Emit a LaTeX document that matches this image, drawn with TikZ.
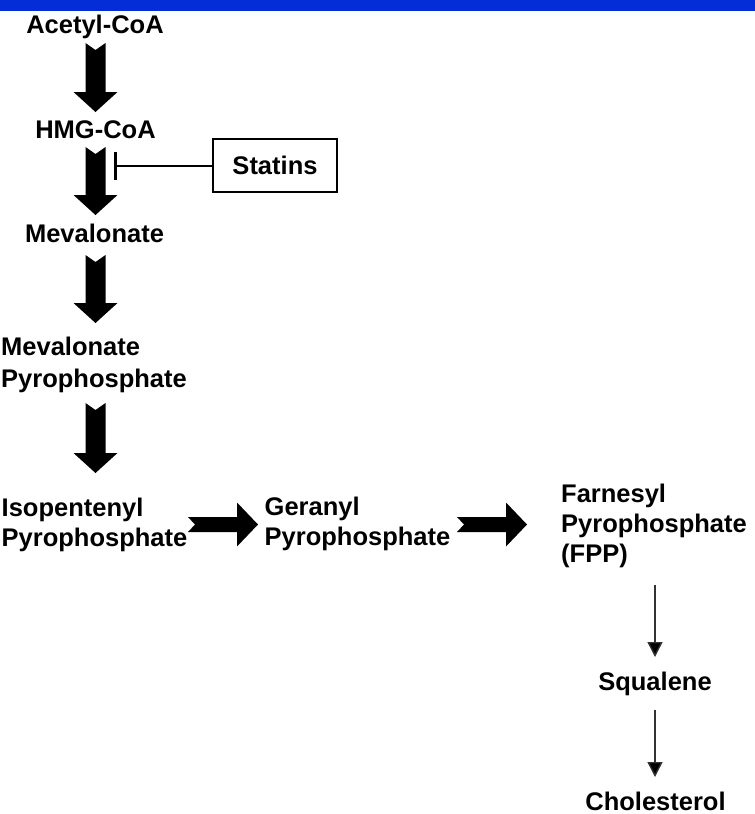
\documentclass[tikz,border=0pt]{standalone}
\usepackage{fontspec}
\setmainfont{Liberation Sans}
\usetikzlibrary{arrows.meta,calc}
\definecolor{topblue}{RGB}{5,45,215}
\definecolor{thinline}{RGB}{50,50,50}
\tikzset{
  lbl/.style={inner sep=0pt, font=\fontsize{25.5}{30}\selectfont\bfseries},
  boxlbl/.style={lbl, draw, line width=1.6pt, minimum width=124pt, minimum height=53pt},
  fatarrow/.style={fill=black},
  thinarr/.style={draw=thinline, line width=1.4pt, -{Triangle[width=15pt,length=15pt,fill=black]}},
  inhibit/.style={draw=black, line width=2pt, -{Bar[width=28pt,line width=2.6pt]}}
}
\newcommand\vfat[2]{\fill[fatarrow] let \p1=(#1), \p2=(#2) in
  (\x1-10pt,\y1) -- (\x1,\y1-7pt) -- (\x1+10pt,\y1) -- (\x1+10pt,\y2+20pt) --
  (\x1+22pt,\y2+20pt) -- (\x1,\y2) -- (\x1-22pt,\y2+20pt) -- (\x1-10pt,\y2+20pt) -- cycle;}
\newcommand\hfat[2]{\fill[fatarrow] let \p1=(#1), \p2=(#2) in
  (\x1,\y1+7.5pt) -- (\x1+7pt,\y1) -- (\x1,\y1-7.5pt) -- (\x2-21pt,\y1-7.5pt) --
  (\x2-21pt,\y1-22pt) -- (\x2,\y1) -- (\x2-21pt,\y1+22pt) -- (\x2-21pt,\y1+7.5pt) -- cycle;}
\begin{document}
\begin{tikzpicture}[x=1pt,y=-1pt]
\useasboundingbox (0,0) rectangle (755,814);
\fill[topblue] (0,0) rectangle (755,11);

% labels
\node[lbl, anchor=base] (acetyl) at (95,33) {Acetyl-CoA};
\node[lbl, anchor=base] (hmg) at (95.5,138) {HMG-CoA};
\node[boxlbl] (statins) at (275,165.5) {Statins};
\node[lbl, anchor=base] (meval) at (94.5,242) {Mevalonate};
\node[lbl, anchor=base west] (mevpp) at (1,355)
  {\fontsize{25.5}{32}\selectfont\begin{tabular}[t]{@{}l@{}}Mevalonate\\Pyrophosphate\end{tabular}};
\node[lbl, anchor=base west] (ipp) at (1.5,516)
  {\begin{tabular}[t]{@{}l@{}}Isopentenyl\\Pyrophosphate\end{tabular}};
\node[lbl, anchor=base west] (gpp) at (264.5,515)
  {\begin{tabular}[t]{@{}l@{}}Geranyl\\Pyrophosphate\end{tabular}};
\node[lbl, anchor=base west] (fpp) at (561,502)
  {\begin{tabular}[t]{@{}l@{}}Farnesyl\\Pyrophosphate\\(FPP)\end{tabular}};
\node[lbl, anchor=base] (squalene) at (655,690) {Squalene};
\node[lbl, anchor=base] (chol) at (655.5,810) {Cholesterol};

% connector ends
\coordinate (v1s) at (95.5,43);  \coordinate (v1e) at (95.5,112);
\coordinate (v2s) at (95.5,147); \coordinate (v2e) at (95.5,215);
\coordinate (v3s) at (95.5,255); \coordinate (v3e) at (95.5,323);
\coordinate (v4s) at (95.5,403); \coordinate (v4e) at (95.5,473);
\coordinate (h1s) at (188,524.5); \coordinate (h1e) at (258,524.5);
\coordinate (h2s) at (457,524.5); \coordinate (h2e) at (527,524.5);
\coordinate (t1s) at (655,585); \coordinate (t1e) at (655,657);
\coordinate (t2s) at (655,710); \coordinate (t2e) at (655,777);
\coordinate (inh) at (114,165.5);

% fat arrows
\vfat{v1s}{v1e}
\vfat{v2s}{v2e}
\vfat{v3s}{v3e}
\vfat{v4s}{v4e}
\hfat{h1s}{h1e}
\hfat{h2s}{h2e}

% thin arrows
\draw[thinarr] (t1s) -- (t1e);
\draw[thinarr] (t2s) -- (t2e);

% inhibition
\draw[inhibit] (statins.west) -- (inh);
\end{tikzpicture}
\end{document}
